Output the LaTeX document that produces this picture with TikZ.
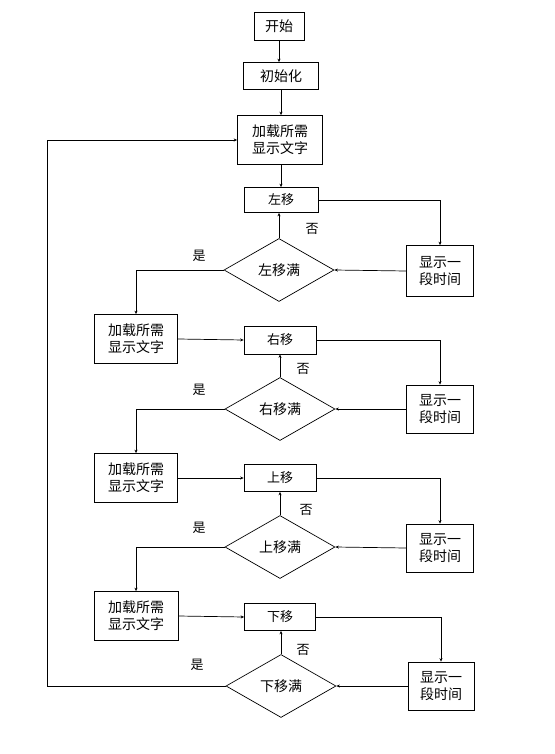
\documentclass[tikz,border=0pt]{standalone}
\usepackage{fontspec}
\setmainfont{Noto Sans CJK SC}
\usetikzlibrary{arrows.meta,shapes.geometric}
\begin{document}
\begin{tikzpicture}[x=1pt,y=-1pt,
  box/.style={draw,line width=0.7pt,inner sep=0pt,font=\fontsize{14}{17}\selectfont,align=center},
  sbox/.style={box,font=\fontsize{13}{15}\selectfont},
  dia/.style={draw,line width=0.7pt,diamond,inner sep=0pt,minimum width=110pt,minimum height=63pt,font=\fontsize{14}{16}\selectfont},
  lbl/.style={font=\fontsize{13}{15}\selectfont,inner sep=0pt},
  conn/.style={line width=0.7pt,-{Stealth[length=3.5pt,width=3pt]}},
  plain/.style={line width=0.7pt}]
\useasboundingbox (0,0) rectangle (554,754);
\fill[white] (0,0) rectangle (554,754);
% top
\node[box,minimum width=50pt,minimum height=28pt] (start) at (279,26) {开始};
\node[box,minimum width=75pt,minimum height=27pt] (init) at (281,76) {初始化};
\node[box,minimum width=85pt,minimum height=49pt] (load1) at (280,140) {加载所需\\显示文字};
\draw[conn] (start.south) -- (start.south |- init.north);
\draw[conn] (init.south) -- (init.south |- load1.north);
% row 1
\node[sbox,minimum width=74pt,minimum height=25pt] (m1) at (281,200) {左移};
\node[dia] (d1) at (279,270) {左移满};
\node[box,minimum width=67pt,minimum height=51pt] (s1) at (440,271) {显示一\\段时间};
\draw[conn] (load1.south -| m1) -- (m1.north);
\draw[conn] (m1.east) -| (s1.north);
\draw[conn] (s1.west) -- (d1.east);
\draw[conn] (d1.north) -- (m1.south -| d1.north);
\node[lbl] (n1) at (312,229) {否};
\node[lbl] (y1) at (199,256) {是};
% row 2
\node[box,minimum width=83pt,minimum height=49pt] (load2) at (136,339) {加载所需\\显示文字};
\node[sbox,minimum width=72pt,minimum height=28pt] (m2) at (280,340) {右移};
\node[dia] (d2) at (280,409) {右移满};
\node[box,minimum width=67pt,minimum height=48pt] (s2) at (440,409) {显示一\\段时间};
\draw[conn] (d1.west) -| (load2.north);
\draw[conn] (load2.east) -- (m2.west);
\draw[conn] (m2.east) -| (s2.north);
\draw[conn] (s2.west) -- (d2.east);
\draw[conn] (d2.north) -- (m2.south);
\node[lbl] (n2) at (303,369) {否};
\node[lbl] (y2) at (199,390) {是};
% row 3
\node[box,minimum width=83pt,minimum height=49pt] (load3) at (136,478) {加载所需\\显示文字};
\node[sbox,minimum width=72pt,minimum height=27pt] (m3) at (280,478) {上移};
\node[dia] (d3) at (280,547) {上移满};
\node[box,minimum width=67pt,minimum height=48pt] (s3) at (440,548) {显示一\\段时间};
\draw[conn] (d2.west) -| (load3.north);
\draw[conn] (load3.east) -- (m3.west);
\draw[conn] (m3.east) -| (s3.north);
\draw[conn] (s3.west) -- (d3.east);
\draw[conn] (d3.north) -- (m3.south);
\node[lbl] (n3) at (306,510) {否};
\node[lbl] (y3) at (199,528) {是};
% row 4
\node[box,minimum width=84pt,minimum height=49pt] (load4) at (136,616) {加载所需\\显示文字};
\node[sbox,minimum width=71pt,minimum height=27pt] (m4) at (280,617) {下移};
\node[dia] (d4) at (281,686) {下移满};
\node[box,minimum width=66pt,minimum height=48pt] (s4) at (441,686) {显示一\\段时间};
\draw[conn] (d3.west) -| (load4.north);
\draw[conn] (load4.east) -- (m4.west);
\draw[conn] (m4.east) -| (s4.north);
\draw[conn] (s4.west) -- (d4.east);
\draw[conn] (d4.north) -- (m4.south -| d4.north);
\node[lbl] (n4) at (303,650) {否};
\node[lbl] (y4) at (197,665) {是};
% loop back
\coordinate (lb) at (47,686);
\coordinate (lt) at (47,140);
\draw[conn] (d4.west) -- (lb) -- (lt) -- (load1.west);
\end{tikzpicture}
\end{document}
